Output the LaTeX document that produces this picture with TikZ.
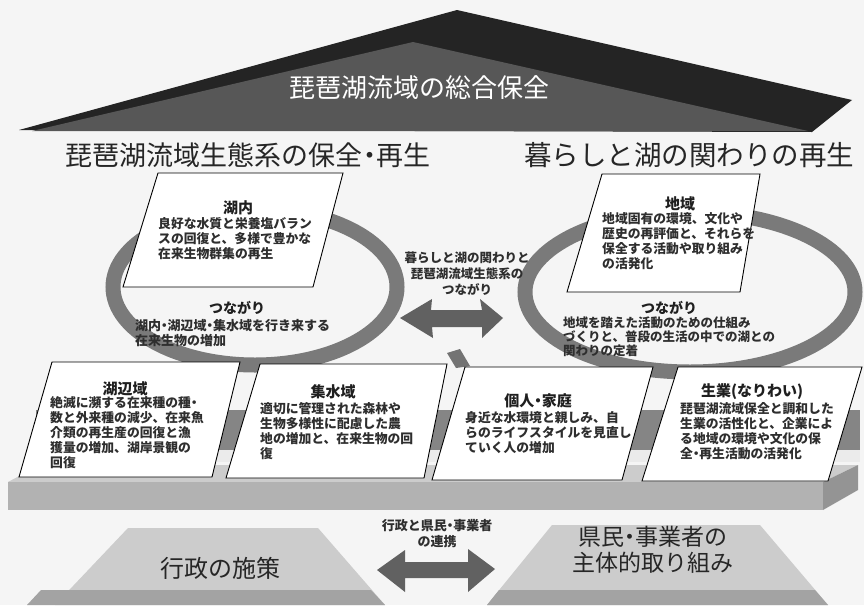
\documentclass[tikz,border=0pt]{standalone}
\usepackage{fontspec}
\newfontfamily\jp{Noto Sans CJK JP}
\newcommand\kdot{\makebox[0.5em][c]{・}}
\begin{document}
\begin{tikzpicture}[x=1pt,y=-1pt,
  box/.style={draw=black,line width=0.9pt,fill=white},
  ring/.style={draw=black!52,line width=15pt},
  ttl/.style={font=\jp\bfseries\fontsize{15}{17}\selectfont,text=black!88,inner sep=0},
  body/.style={font=\jp\bfseries\fontsize{12.8}{15.2}\selectfont,align=left,anchor=north west,inner sep=0,text=black!82},
  head/.style={font=\jp\fontsize{27}{29}\selectfont,text=black!85,inner sep=0},
  fat/.style={fill=black!62},
  small/.style={font=\jp\bfseries\fontsize{12.5}{16}\selectfont,align=center,text=black!82,inner sep=0}]
\useasboundingbox (0,0) rectangle (864,605);
\fill[black!4] (0,0) rectangle (864,605);
% roof
\fill[black!86] (19,130) -- (457,10) -- (852,100) -- (812,132) -- cycle;
\fill[black!66] (32,131) -- (413,42) -- (808,131) -- cycle;
\node[font=\jp\fontsize{26}{28}\selectfont,text=white,inner sep=0] (roof) at (419,88) {琵琶湖流域の総合保全};
% headings
\node[head] (hl) at (248,155) {琵琶湖流域生態系の保全\kdot 再生};
\node[head,font=\jp\fontsize{27.5}{29}\selectfont] (hr) at (689,155) {暮らしと湖の関わりの再生};
% slab
\fill[black!20] (8,482) -- (823,482) -- (858,465) -- (40,465) -- cycle;
\fill[black!30] (8,482) rectangle (823,510);
\fill[black!42] (823,482) -- (858,465) -- (858,490) -- (823,510) -- cycle;
% band behind lower boxes
\fill[black!48] (36,410) rectangle (860,450);
\fill[black!8] (36,450) rectangle (860,462);
% small patch
\fill[black!55] (447,353) -- (460,349) -- (470,366) -- (456,368) -- cycle;
% rings
\draw[ring] (255,287) ellipse [x radius=142, y radius=78];
\draw[ring] (690,292) ellipse [x radius=165, y radius=80];
% upper boxes
\draw[box] (158,173) -- (343,173) -- (313,287) -- (123,287) -- cycle;
\draw[box] (602,174) -- (760,174) -- (740,292) -- (567,292) -- cycle;
% lower boxes
\draw[box] (52,362) -- (240,362) -- (212,477) -- (19,477) -- cycle;
\draw[box] (260,364) -- (447,364) -- (424,478) -- (226,478) -- cycle;
\draw[box] (465,367) -- (653,367) -- (622,480) -- (432,480) -- cycle;
\draw[box] (678,367) -- (862,367) -- (828,481) -- (642,481) -- cycle;
% box texts
\node[ttl] (t1) at (238,208) {湖内};
\node[body] (b1) at (158,217) {良好な水質と栄養塩バラン\\スの回復と、多様で豊かな\\在来生物群集の再生};
\node[ttl] (t2) at (680,204) {地域};
\node[body] (b2) at (602,212) {地域固有の環境、文化や\\歴史の再評価と、それらを\\保全する活動や取り組み\\の活発化};
\node[ttl] (t3) at (125,389) {湖辺域};
\node[body] (b3) at (50,396) {絶滅に瀕する在来種の種\kdot\\数と外来種の減少、在来魚\\介類の再生産の回復と漁\\獲量の増加、湖岸景観の\\回復};
\node[ttl] (t4) at (333,392) {集水域};
\node[body] (b4) at (260,402) {適切に管理された森林や\\生物多様性に配慮した農\\地の増加と、在来生物の回\\復};
\node[ttl] (t5) at (538,401) {個人\kdot 家庭};
\node[body] (b5) at (465,411) {身近な水環境と親しみ、自\\らのライフスタイルを見直し\\ていく人の増加};
\node[ttl] (t6) at (752,392) {生業(なりわい)};
\node[body] (b6) at (680,402) {琵琶湖流域保全と調和した\\生業の活性化と、企業によ\\る地域の環境や文化の保\\全\kdot 再生活動の活発化};
% tsunagari
\node[ttl,font=\jp\bfseries\fontsize{14}{16}\selectfont] (t7) at (237,308) {つながり};
\node[body,font=\jp\bfseries\fontsize{13}{15}\selectfont] (b7) at (135,319) {湖内\kdot 湖辺域\kdot 集水域を行き来する\\在来生物の増加};
\node[ttl,font=\jp\bfseries\fontsize{14}{16}\selectfont] (t8) at (669,308) {つながり};
\node[body,font=\jp\bfseries\fontsize{12.5}{13.8}\selectfont] (b8) at (563,317) {地域を踏えた活動のための仕組み\\づくりと、普段の生活の中での湖との\\関わりの定着};
% middle link
\node[small] (mid) at (467,274) {暮らしと湖の関わりと\\琵琶湖流域生態系の\\つながり};
\fill[fat] (400,318) -- (432,299) -- (431,310) -- (482,310) -- (480,299) -- (503,318) -- (482,338) -- (482,327) -- (432,327) -- (433,338) -- cycle;
% bottom
\fill[black!20] (55,605) -- (128,528) -- (318,528) -- (385,605) -- cycle;
\fill[black!36] (41,590) -- (371,590) -- (385,605) -- (27,605) -- cycle;
\fill[black!20] (487,605) -- (552,525) -- (760,525) -- (828,605) -- cycle;
\fill[black!36] (499,590) -- (815,590) -- (828,605) -- (487,605) -- cycle;
\node[font=\jp\fontsize{24}{26}\selectfont,text=black!85,inner sep=0] (gov) at (220,568) {行政の施策};
\node[font=\jp\fontsize{23}{26}\selectfont,text=black!85,align=center,inner sep=0] (ppl) at (653,550) {県民\kdot 事業者の\\主体的取り組み};
\node[small,font=\jp\bfseries\fontsize{13}{16}\selectfont] (lnk) at (437,534) {行政と県民\kdot 事業者\\の連携};
\fill[fat] (377,570) -- (405,550) -- (405,562) -- (468,562) -- (468,549) -- (495,569) -- (468,592) -- (468,578) -- (405,578) -- (405,592) -- cycle;
\end{tikzpicture}
\end{document}
